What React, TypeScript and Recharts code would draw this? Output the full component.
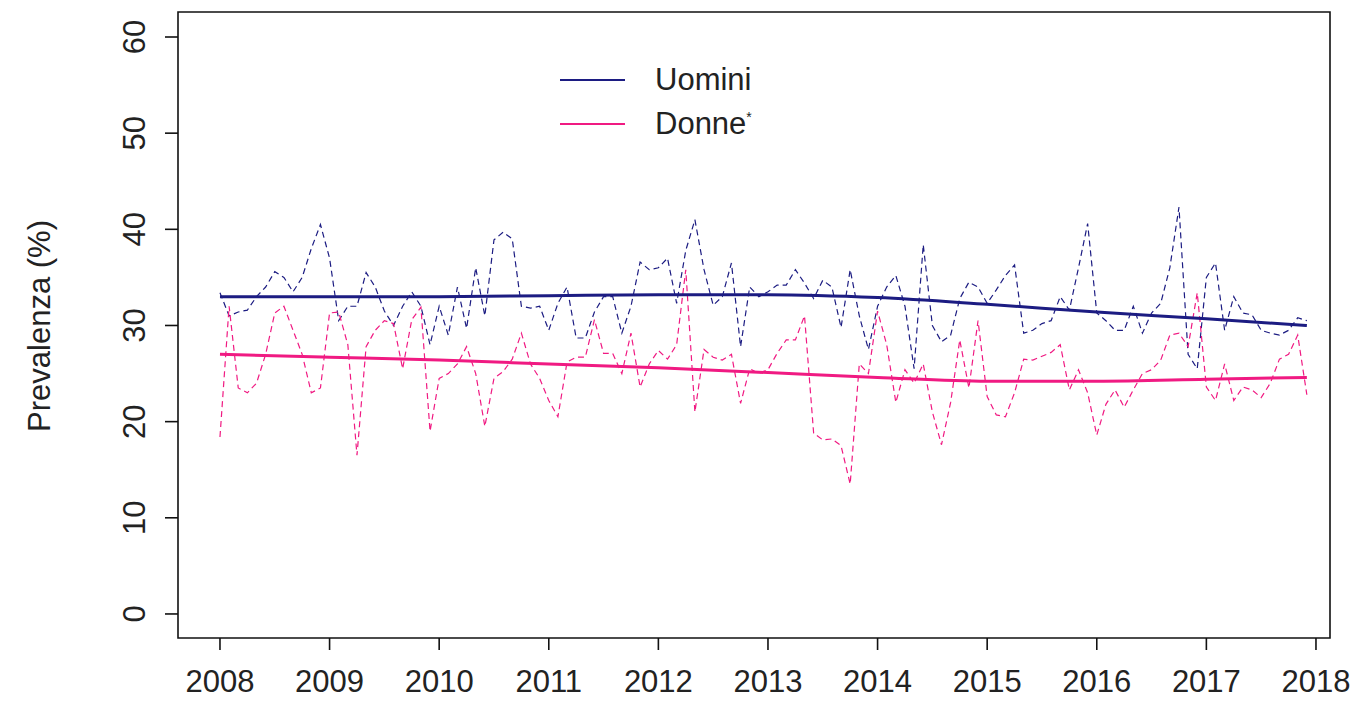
import React from 'react';
import { LineChart, Line, XAxis, YAxis, ReferenceArea } from 'recharts';

// monthly prevalence, Jan 2008 .. Dec 2017
const uominiMensile = [
  33.4, 31, 31.4, 31.6, 33, 34, 35.6, 35, 33.5, 35, 38, 40.5,
  37, 30.5, 32, 32, 35.5, 34, 31.5, 30, 32, 33.5, 32, 28,
  32, 29, 34, 29.7, 36, 31, 38.9, 39.7, 39, 32, 31.8, 32,
  29.5, 32.3, 34, 28.7, 28.7, 31.4, 33, 33, 29.2, 32, 36.6, 35.8,
  36, 37, 32.3, 37.8, 41, 35.8, 32.1, 33, 36.5, 27.8, 34, 33,
  33.5, 34.2, 34.2, 35.8, 34.4, 32.8, 34.7, 34, 29.8, 35.8, 31, 27.5,
  32, 34, 35.2, 32, 25.5, 38.4, 30, 28.3, 29, 32.8, 34.5, 34,
  32.3, 33.7, 35.2, 36.3, 29.2, 29.5, 30.2, 30.5, 33, 31.6, 36, 40.6,
  31.3, 30.5, 29.5, 29.5, 32, 29.2, 31.3, 32.3, 36, 42.3, 27, 25.5,
  35, 36.5, 29.5, 33, 31.3, 31.1, 29.5, 29.2, 29, 29.5, 30.8, 30.5,
];

const donneMensile = [
  18.4, 32, 23.5, 23, 24, 27, 31.3, 32, 29.5, 27, 23, 23.5,
  31.3, 31.4, 28, 16.5, 27.8, 29.5, 30.5, 30.2, 25.5, 30.6, 31.9, 19,
  24.5, 25, 26, 27.8, 25, 19.5, 24.5, 25.2, 26.5, 29.2, 26, 24.5,
  22.2, 20.5, 26.2, 26.7, 26.7, 30.6, 27.1, 27.1, 25, 29.2, 23.6, 26,
  27.4, 26.5, 28, 35.8, 21, 27.5, 26.7, 26.4, 27, 21.9, 25.5, 25,
  25.4, 27.1, 28.5, 28.5, 31, 18.8, 18.1, 18.2, 17.5, 13.5, 26, 25,
  31.5, 28, 22, 25.4, 24, 26, 21, 17.6, 22, 28.5, 23.5, 30.5,
  22.6, 20.7, 20.5, 23, 26.5, 26.4, 26.8, 27.2, 28, 23.3, 25.4, 23,
  18.6, 21.8, 23.3, 21.5, 23.3, 25, 25.4, 26.4, 29, 29.2, 27.8, 33.4,
  23.6, 22.2, 26, 22.2, 23.6, 23.3, 22.5, 24, 26.5, 27, 29, 22.8,
];

// smoothed trend
const anniTrend = [2008, 2009, 2010, 2011, 2012, 2013, 2014, 2015, 2016, 2017, 2017.917];
const uominiTrend = [33.0, 33.0, 33.0, 33.1, 33.2, 33.2, 32.9, 32.2, 31.4, 30.7, 30.0];
const donneTrend = [27.0, 26.7, 26.4, 26.0, 25.6, 25.1, 24.6, 24.2, 24.2, 24.4, 24.6];

const xTicks = [2008, 2009, 2010, 2011, 2012, 2013, 2014, 2015, 2016, 2017, 2018];
const yTicks = [0, 10, 20, 30, 40, 50, 60];

const X_DOMAIN = [2007.617, 2018.128];
const Y_DOMAIN = [-2.5, 62.6];

const BLU = '#1c1c82';
const ROSA = '#f01a82';
const FONT = '"Liberation Sans", Arial, sans-serif';
const TXT = '#222';

const mensile = uominiMensile.map((u, i) => ({
  t: 2008 + i / 12,
  uomini: u,
  donne: donneMensile[i],
}));

const trend = anniTrend.map((t, i) => ({
  t,
  uominiT: uominiTrend[i],
  donneT: donneTrend[i],
}));

const XTick = (props: any) => (
  <text x={props.x} y={props.y + 40} textAnchor="middle" fontSize={31} fontFamily={FONT} fill={TXT}>
    {props.payload.value}
  </text>
);

const YTick = (props: any) => {
  const x = props.x - 18;
  const y = props.y;
  return (
    <text x={x} y={y} transform={`rotate(-90 ${x} ${y})`} textAnchor="middle" fontSize={31} fontFamily={FONT} fill={TXT}>
      {props.payload.value}
    </text>
  );
};

const YLabel = () => (
  <text x={50} y={326} transform="rotate(-90 50 326)" textAnchor="middle" fontSize={31} fontFamily={FONT} fill={TXT}>
    Prevalenza (%)
  </text>
);

export default function App() {
  return (
    <div style={{ position: 'absolute', left: 0, top: 0, width: 1358, height: 718, background: '#fff' }}>
      <LineChart width={1358} height={718} margin={{ top: 12, right: 28, left: 118, bottom: 0 }}>
        <XAxis
          dataKey="t"
          type="number"
          domain={X_DOMAIN}
          ticks={xTicks}
          allowDataOverflow
          height={80}
          axisLine={false}
          tickSize={12}
          tickLine={{ stroke: '#111', strokeWidth: 1.6 }}
          tick={XTick}
        />
        <YAxis
          type="number"
          domain={Y_DOMAIN}
          ticks={yTicks}
          allowDataOverflow
          width={60}
          axisLine={false}
          tickSize={13}
          tickLine={{ stroke: '#111', strokeWidth: 1.6 }}
          tick={YTick}
          label={{ content: YLabel }}
        />
        <Line data={mensile} dataKey="uomini" stroke={BLU} strokeWidth={1.2} strokeDasharray="6 4" dot={false} isAnimationActive={false} />
        <Line data={mensile} dataKey="donne" stroke={ROSA} strokeWidth={1.2} strokeDasharray="6 4" dot={false} isAnimationActive={false} />
        <Line data={trend} dataKey="uominiT" type="monotone" stroke={BLU} strokeWidth={3} dot={false} isAnimationActive={false} />
        <Line data={trend} dataKey="donneT" type="monotone" stroke={ROSA} strokeWidth={3} dot={false} isAnimationActive={false} />
        <ReferenceArea x1={X_DOMAIN[0]} x2={X_DOMAIN[1]} y1={Y_DOMAIN[0]} y2={Y_DOMAIN[1]} fill="none" stroke="#111" strokeWidth={1.6} />
      </LineChart>
      <div style={{ position: 'absolute', left: 560, top: 58, fontFamily: FONT, fontSize: 31, color: TXT, lineHeight: '44px' }}>
        {[
          { nome: 'Uomini', col: BLU, sup: '' },
          { nome: 'Donne', col: ROSA, sup: '*' },
        ].map((v) => (
          <div key={v.nome} style={{ display: 'flex', alignItems: 'center', height: 44 }}>
            <span style={{ display: 'inline-block', width: 65, height: 2, background: v.col, marginRight: 30 }} />
            <span>
              {v.nome}
              {v.sup && <sup style={{ fontSize: 14, verticalAlign: 'top', lineHeight: '30px' }}>{v.sup}</sup>}
            </span>
          </div>
        ))}
      </div>
    </div>
  );
}
